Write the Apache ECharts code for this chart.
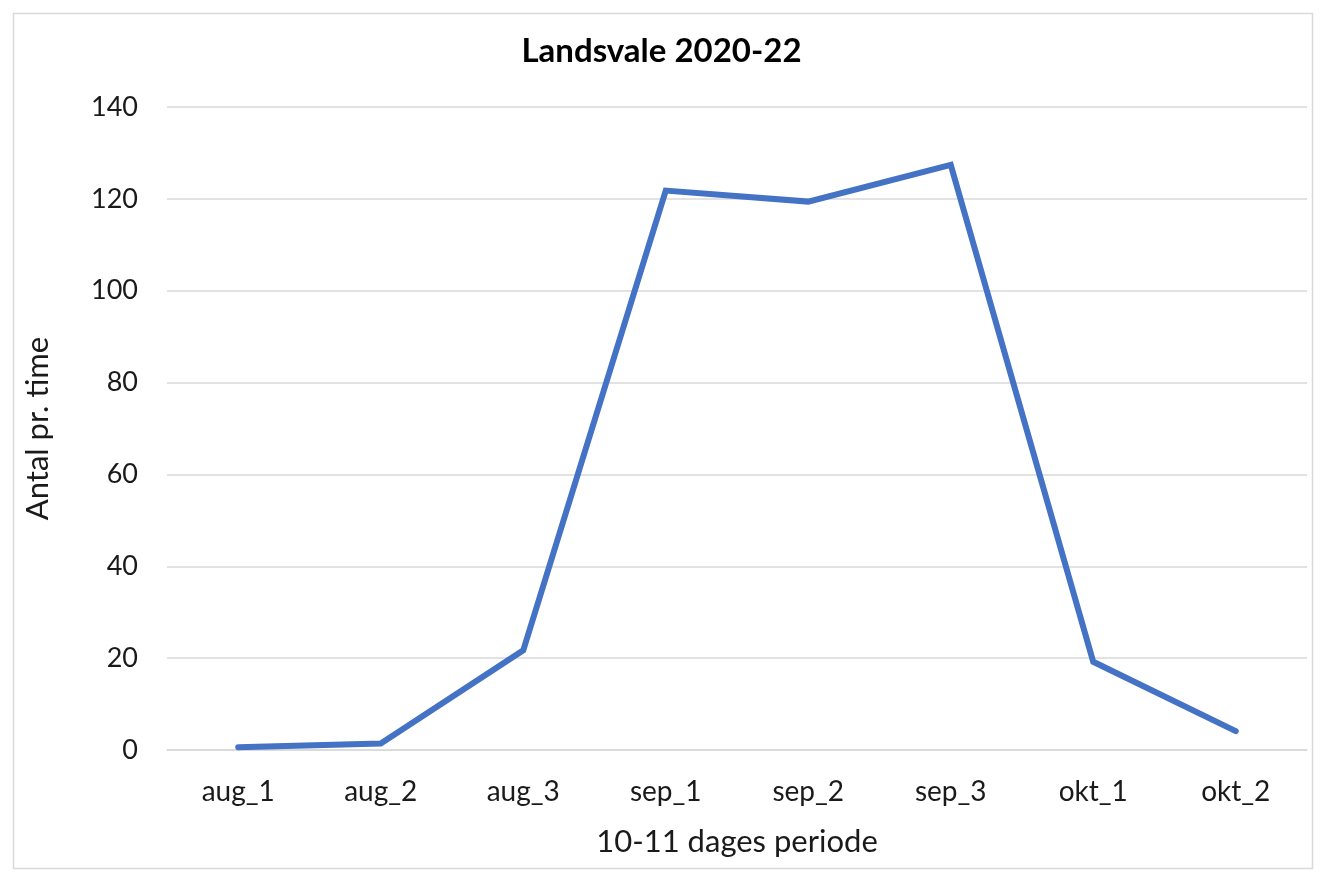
<!DOCTYPE html>
<html>
<head>
<meta charset="utf-8">
<script src="https://cdn.jsdelivr.net/npm/echarts@6/dist/echarts.min.js"></script>
<style>html,body{margin:0;padding:0;background:#fff}#c{width:1323px;height:879px}</style>
</head>
<body>
<div id="c"></div>
<script>
const categories = ['aug_1','aug_2','aug_3','sep_1','sep_2','sep_3','okt_1','okt_2'];
const values = [0.6, 1.4, 21.7, 121.8, 119.4, 127.4, 19.2, 4.1];
const chart = echarts.init(document.getElementById('c'));
const font = 'Lato, "Open Sans", sans-serif';
chart.setOption({
  animation: false,
  backgroundColor: '#fff',
  graphic: [{
    type: 'rect', left: 11, top: 11, shape: {width: 1299, height: 855},
    style: {fill: 'none', stroke: '#d9d9d9', lineWidth: 1.5}, silent: true
  }],
  title: {
    text: 'Landsvale 2020-22', left: 'center', top: 30,
    textStyle: {fontFamily: font, fontSize: 33, fontWeight: 'bold', color: '#000'}
  },
  grid: {left: 167, right: 16, top: 107, bottom: 129},
  xAxis: {
    type: 'category', data: categories, boundaryGap: true,
    name: '10-11 dages periode', nameLocation: 'middle', nameGap: 76,
    nameTextStyle: {fontFamily: font, fontSize: 31, color: '#1a1a1a'},
    axisLine: {show: true, lineStyle: {color: '#d9d9d9', width: 1.5}},
    axisTick: {show: false},
    axisLabel: {fontFamily: font, fontSize: 28, color: '#1a1a1a', margin: 28}
  },
  yAxis: {
    type: 'value', min: 0, max: 140, interval: 20,
    name: 'Antal pr. time', nameLocation: 'middle', nameGap: 114,
    nameTextStyle: {fontFamily: font, fontSize: 31, color: '#1a1a1a'},
    axisLine: {show: false}, axisTick: {show: false},
    axisLabel: {fontFamily: font, fontSize: 27, color: '#1a1a1a', margin: 29},
    splitLine: {lineStyle: {color: '#d9d9d9', width: 1.5}}
  },
  series: [{
    type: 'line', data: values, symbol: 'none',
    lineStyle: {color: '#4472C4', width: 6, cap: 'round', join: 'miter'}
  }]
});
</script>
</body>
</html>
